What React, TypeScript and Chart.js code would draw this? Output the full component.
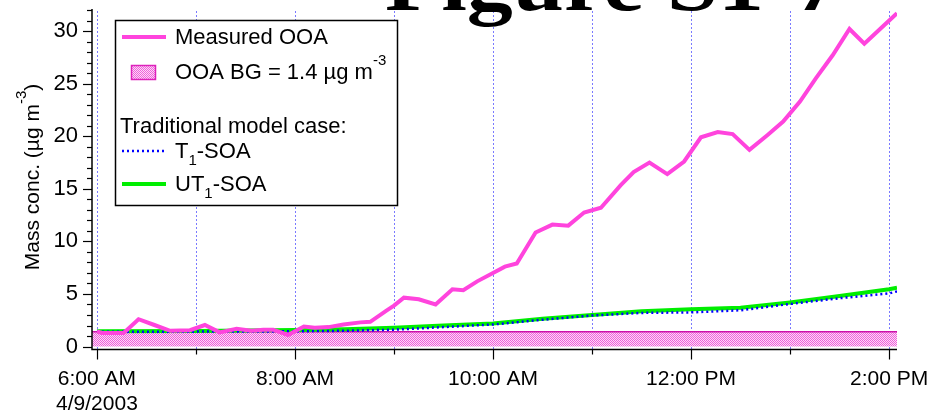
import React, { useEffect, useRef } from 'react';
import { Chart, registerables } from 'chart.js';

Chart.register(...registerables);

// ---- data (hours of day, µg m^-3) ----
const ooaTimes = [6.0, 6.05, 6.27, 6.42, 6.58, 6.74, 6.94, 7.09, 7.24, 7.41, 7.56, 7.68, 7.78, 7.93, 8.09, 8.2, 8.34, 8.49, 8.66, 8.76, 8.92, 9.0, 9.1, 9.25, 9.42, 9.59, 9.7, 9.84, 10.0, 10.12, 10.24, 10.43, 10.6, 10.76, 10.92, 11.09, 11.29, 11.42, 11.58, 11.76, 11.93, 12.1, 12.27, 12.42, 12.59, 12.77, 12.93, 13.1, 13.26, 13.43, 13.6, 13.75, 13.92, 14.08];
const ooaValues = [1.45, 1.3, 1.3, 2.6, 2.05, 1.5, 1.55, 2.05, 1.35, 1.7, 1.5, 1.6, 1.6, 1.1, 1.9, 1.8, 1.85, 2.1, 2.3, 2.35, 3.4, 3.9, 4.65, 4.5, 4.0, 5.45, 5.35, 6.2, 7.0, 7.6, 7.9, 10.85, 11.6, 11.5, 12.75, 13.2, 15.35, 16.6, 17.5, 16.4, 17.6, 19.9, 20.4, 20.2, 18.7, 20.1, 21.4, 23.3, 25.5, 27.7, 30.2, 28.8, 30.3, 31.7];

const t1Times = [6.0, 7.0, 8.0, 8.5, 9.0, 9.5, 10.0, 10.5, 11.0, 11.5, 12.0, 12.5, 13.0, 13.5, 14.0, 14.08];
const t1Values = [1.4, 1.42, 1.45, 1.5, 1.6, 1.85, 2.1, 2.55, 2.95, 3.2, 3.25, 3.45, 4.05, 4.6, 5.05, 5.25];

const ut1Times = [6.0, 7.0, 8.0, 8.5, 9.0, 9.5, 10.0, 10.5, 11.0, 11.5, 12.0, 12.5, 13.0, 13.5, 14.0, 14.08];
const ut1Values = [1.45, 1.47, 1.57, 1.65, 1.8, 2.0, 2.2, 2.65, 3.0, 3.35, 3.55, 3.7, 4.2, 4.8, 5.45, 5.6];

const bgValue = 1.4;
const xMin = 5.95;
const xMax = 14.08;
const yMin = -0.28;
const yMax = 32.1;

const xGridHours = [6, 7, 8, 9, 10, 11, 12, 13, 14];
const xMajorHours = [6, 8, 10, 12, 14];
const xMajorLabels: (string | string[])[] = [['6:00 AM', '4/9/2003'], '8:00 AM', '10:00 AM', '12:00 PM', '2:00 PM'];
const yMajorTicks = [0, 5, 10, 15, 20, 25, 30];
const yMinorTicks = [0, 1, 2, 3, 4, 5, 6, 7, 8, 9, 10, 11, 12, 13, 14, 15, 16, 17, 18, 19, 20, 21, 22, 23, 24, 25, 26, 27, 28, 29, 30, 31, 32];

const PINK = '#ff44dd';
const GREEN = '#00ee00';
const BLUE = '#0000ff';
const FONT = '"Liberation Sans", Arial, sans-serif';

function makePattern(): CanvasPattern | string {
  const c = document.createElement('canvas');
  c.width = 2;
  c.height = 2;
  const g = c.getContext('2d');
  if (!g) return '#f4a0e8';
  g.fillStyle = '#fcdcf6';
  g.fillRect(0, 0, 2, 2);
  g.fillStyle = '#f060dc';
  g.fillRect(0, 0, 1, 1);
  g.fillRect(1, 1, 1, 1);
  const p = g.createPattern(c, 'repeat');
  return p || '#f4a0e8';
}

type Part = { t: string; size: number; dy: number };
function drawParts(ctx: CanvasRenderingContext2D, parts: Part[], x: number, y: number) {
  let cx = x;
  for (const p of parts) {
    ctx.font = `${p.size}px ${FONT}`;
    ctx.fillText(p.t, cx, y + p.dy);
    cx += ctx.measureText(p.t).width;
  }
}
function partsWidth(ctx: CanvasRenderingContext2D, parts: Part[]) {
  let w = 0;
  for (const p of parts) {
    ctx.font = `${p.size}px ${FONT}`;
    w += ctx.measureText(p.t).width;
  }
  return w;
}

export default function App() {
  const ref = useRef<HTMLCanvasElement | null>(null);

  useEffect(() => {
    document.body.style.margin = '0';
    const canvas = ref.current;
    if (!canvas) return;
    const pattern = makePattern();

    const decor = {
      id: 'decor',
      beforeDatasetsDraw(chart: any) {
        const { ctx, chartArea } = chart;
        const xs = chart.scales.x;
        ctx.save();
        ctx.strokeStyle = '#7a7aff';
        ctx.lineWidth = 1;
        ctx.setLineDash([2, 2]);
        for (const h of xGridHours) {
          const px = Math.round(xs.getPixelForValue(h)) + 0.5;
          ctx.beginPath();
          ctx.moveTo(px, chartArea.top + 2);
          ctx.lineTo(px, chartArea.bottom);
          ctx.stroke();
        }
        ctx.restore();
      },
      afterDraw(chart: any) {
        const { ctx, chartArea } = chart;
        const xs = chart.scales.x;
        const ys = chart.scales.y;
        ctx.save();
        // title (cut by the top edge)
        ctx.fillStyle = '#000';
        ctx.font = 'bold 80px "Liberation Serif", serif';
        ctx.textBaseline = 'alphabetic';
        ctx.textAlign = 'left';
        ctx.save();
        ctx.translate(385, 10);
        ctx.scale(1.15, 1);
        ctx.fillText('Figure S1-7', 0, 0);
        ctx.restore();

        // axes lines
        ctx.strokeStyle = '#000';
        ctx.lineWidth = 1.5;
        ctx.beginPath();
        ctx.moveTo(chartArea.left, chartArea.top);
        ctx.lineTo(chartArea.left, chartArea.bottom);
        ctx.lineTo(chartArea.right, chartArea.bottom);
        ctx.stroke();
        // y ticks
        ctx.lineWidth = 1.2;
        for (const v of yMinorTicks) {
          const py = Math.round(ys.getPixelForValue(v)) + 0.5;
          const len = yMajorTicks.includes(v) ? 9 : 5;
          ctx.beginPath();
          ctx.moveTo(chartArea.left - len, py);
          ctx.lineTo(chartArea.left, py);
          ctx.stroke();
        }
        // x ticks
        for (const h of xGridHours) {
          const px = Math.round(xs.getPixelForValue(h)) + 0.5;
          const len = xMajorHours.includes(h) ? 10 : 5;
          ctx.beginPath();
          ctx.moveTo(px, chartArea.bottom);
          ctx.lineTo(px, chartArea.bottom + len);
          ctx.stroke();
        }

        // y axis title
        ctx.save();
        ctx.translate(33, 177);
        ctx.rotate(-Math.PI / 2);
        ctx.textBaseline = 'middle';
        ctx.fillStyle = '#000';
        const yParts: Part[] = [
          { t: 'Mass conc. (µg m', size: 21, dy: 0 },
          { t: '-3', size: 15, dy: -11 },
          { t: ')', size: 21, dy: 0 },
        ];
        const yw = partsWidth(ctx, yParts);
        drawParts(ctx, yParts, -yw / 2, 0);
        ctx.restore();

        // legend
        const ds = chart.data.datasets;
        ctx.fillStyle = '#fff';
        ctx.fillRect(115, 20, 282, 185);
        ctx.strokeStyle = '#000';
        ctx.lineWidth = 1.5;
        ctx.strokeRect(115.5, 20.5, 282, 185);
        ctx.textBaseline = 'middle';
        ctx.fillStyle = '#000';
        // Measured OOA
        ctx.strokeStyle = ds[0].borderColor;
        ctx.lineWidth = ds[0].borderWidth;
        ctx.beginPath();
        ctx.moveTo(122, 37);
        ctx.lineTo(166, 37);
        ctx.stroke();
        drawParts(ctx, [{ t: ds[0].label, size: 22, dy: 0 }], 175, 38);
        // BG swatch
        ctx.fillStyle = pattern as any;
        ctx.fillRect(131, 65, 25, 15);
        ctx.strokeStyle = '#dd22bb';
        ctx.lineWidth = 1.5;
        ctx.strokeRect(131.5, 65.5, 24, 14);
        ctx.fillStyle = '#000';
        drawParts(ctx, [
          { t: 'OOA BG = ' + bgValue.toFixed(1) + ' µg m', size: 22, dy: 0 },
          { t: '-3', size: 15, dy: -12 },
        ], 175, 73);
        drawParts(ctx, [{ t: 'Traditional model case:', size: 22, dy: 0 }], 120, 127);
        // T1-SOA
        ctx.strokeStyle = ds[1].borderColor;
        ctx.lineWidth = 2.5;
        ctx.setLineDash(ds[1].borderDash);
        ctx.beginPath();
        ctx.moveTo(122, 151);
        ctx.lineTo(166, 151);
        ctx.stroke();
        ctx.setLineDash([]);
        drawParts(ctx, [
          { t: 'T', size: 22, dy: 0 },
          { t: '1', size: 15, dy: 9 },
          { t: '-SOA', size: 22, dy: 0 },
        ], 175, 152);
        // UT1-SOA
        ctx.strokeStyle = ds[2].borderColor;
        ctx.lineWidth = ds[2].borderWidth;
        ctx.beginPath();
        ctx.moveTo(122, 184);
        ctx.lineTo(166, 184);
        ctx.stroke();
        drawParts(ctx, [
          { t: 'UT', size: 22, dy: 0 },
          { t: '1', size: 15, dy: 9 },
          { t: '-SOA', size: 22, dy: 0 },
        ], 175, 185);
        ctx.restore();
      },
    };

    const chart = new Chart(canvas, {
      type: 'line',
      data: {
        datasets: [
          {
            label: 'Measured OOA',
            data: ooaTimes.map((t, i) => ({ x: t, y: ooaValues[i] })),
            borderColor: PINK,
            borderWidth: 4,
            pointRadius: 0,
            tension: 0,
            fill: false,
          },
          {
            label: 'T1-SOA',
            data: t1Times.map((t, i) => ({ x: t, y: t1Values[i] })),
            borderColor: BLUE,
            borderWidth: 2.5,
            borderDash: [2, 3],
            pointRadius: 0,
            tension: 0,
            fill: false,
          },
          {
            label: 'UT1-SOA',
            data: ut1Times.map((t, i) => ({ x: t, y: ut1Values[i] })),
            borderColor: GREEN,
            borderWidth: 4,
            pointRadius: 0,
            tension: 0,
            fill: false,
          },
          {
            label: 'OOA BG',
            data: [{ x: xMin, y: bgValue }, { x: xMax, y: bgValue }],
            borderColor: '#cc11aa',
            borderWidth: 1.5,
            backgroundColor: pattern as any,
            pointRadius: 0,
            fill: 'origin',
          },
        ],
      } as any,
      options: {
        responsive: false,
        animation: false,
        layout: { padding: { left: 0, right: 35, top: 9, bottom: 0 } },
        plugins: { legend: { display: false }, tooltip: { enabled: false }, title: { display: false } },
        scales: {
          x: {
            type: 'linear',
            min: xMin,
            max: xMax,
            afterBuildTicks: (s: any) => {
              s.ticks = xMajorHours.map((v) => ({ value: v }));
            },
            afterFit: (s: any) => {
              s.height = 62.5;
              s.paddingLeft = 0;
              s.paddingRight = 0;
              s.paddingTop = 0;
              s.paddingBottom = 0;
            },
            ticks: {
              autoSkip: false,
              maxRotation: 0,
              padding: 18,
              color: '#000',
              font: { family: FONT, size: 21, lineHeight: 1.15 },
              callback: (v: any) => {
                const i = xMajorHours.indexOf(Number(v));
                return i >= 0 ? xMajorLabels[i] : '';
              },
            },
            grid: { display: false, drawTicks: false },
            border: { display: false },
          },
          y: {
            type: 'linear',
            min: yMin,
            max: yMax,
            afterBuildTicks: (s: any) => {
              s.ticks = yMajorTicks.map((v) => ({ value: v }));
            },
            afterFit: (s: any) => {
              s.width = 92;
              s.paddingLeft = 0;
              s.paddingRight = 0;
              s.paddingTop = 0;
              s.paddingBottom = 0;
            },
            ticks: {
              padding: 14,
              color: '#000',
              font: { family: FONT, size: 22 },
              callback: (v: any) => String(v),
            },
            grid: { display: false, drawTicks: false },
            border: { display: false },
          },
        },
      } as any,
      plugins: [decor],
    });
    return () => chart.destroy();
  }, []);

  return (
    <div style={{ position: 'absolute', left: 0, top: 0, width: 932, height: 412, background: '#fff' }}>
      <canvas ref={ref} width={932} height={412} style={{ display: 'block', width: 932, height: 412 }} />
    </div>
  );
}
